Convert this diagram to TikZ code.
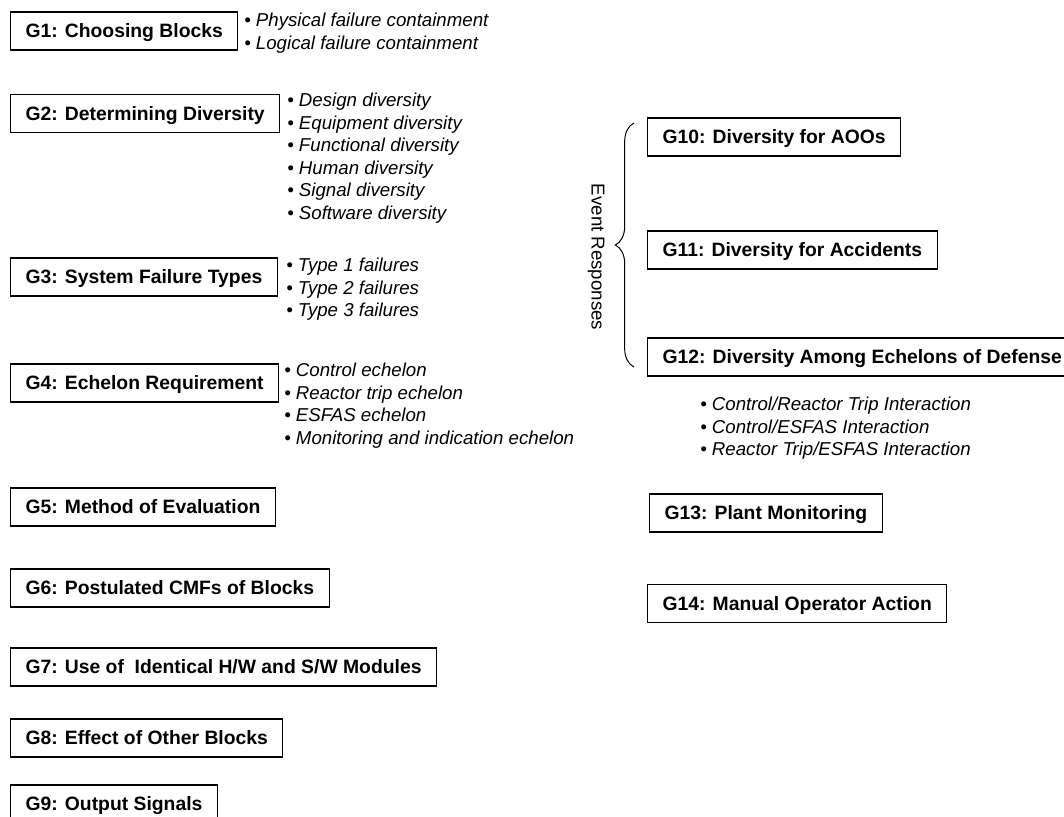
\documentclass[tikz,border=0pt]{standalone}
\usepackage{fontspec}
\setmainfont{Liberation Sans}
\usepackage{tikz}
\usetikzlibrary{positioning}
\usetikzlibrary{decorations.pathreplacing}

\begin{document}
\begin{tikzpicture}[x=0.75pt, y=-0.75pt,
		gbox/.style={draw, line width=0.8pt, anchor=west, inner xsep=11.25pt, inner ysep=0pt, minimum height=28.5pt, text height=10.4pt, text depth=0pt, font=\fontsize{14.5pt}{17pt}\selectfont\bfseries},
		items/.style={anchor=north west, inner sep=0pt, align=left, font=\fontsize{14pt}{16.9pt}\selectfont\itshape},
		brace/.style={decorate, decoration={brace, amplitude=14pt}, line width=0.75pt}]
				\useasboundingbox (0,0) rectangle (1064,817);
				\clip (0,0) rectangle (1064,817);
				
				\node[gbox] (g1) at (10,31) {G1: Choosing Blocks};
				\node[gbox] (g2) at (10,113.5) {G2: Determining Diversity};
				\node[gbox] (g3) at (10,277) {G3: System Failure Types};
				\node[gbox] (g4) at (10,383) {G4: Echelon Requirement};
				\node[gbox] (g5) at (10,507) {G5: Method of Evaluation};
				\node[gbox] (g6) at (10,588) {G6: Postulated CMFs of Blocks};
				\node[gbox] (g7) at (10,667) {G7: Use of~ Identical H/W and S/W Modules};
				\node[gbox] (g8) at (10,738) {G8: Effect of Other Blocks};
				\node[gbox] (g9) at (10,804) {G9: Output Signals};
				
				\node[gbox] (g10) at (647,137) {G10: Diversity for AOOs};
				\node[gbox] (g11) at (647,250) {G11: Diversity for Accidents};
				\node[gbox] (g12) at (647,357) {G12: Diversity Among Echelons of Defense};
				\node[gbox] (g13) at (649,513) {G13: Plant Monitoring};
				\node[gbox] (g14) at (647,603.5) {G14: Manual Operator Action};
				
				\node[items] (l1) at (244,13) {• Physical failure containment\\• Logical failure containment};
				\node[items] (l2) at (287,93) {• Design diversity\\• Equipment diversity\\• Functional diversity\\• Human diversity\\• Signal diversity\\• Software diversity};
				\node[items] (l3) at (286,258) {• Type 1 failures\\• Type 2 failures\\• Type 3 failures};
				\node[items] (l4) at (284,363) {• Control echelon\\• Reactor trip echelon\\• ESFAS echelon\\• Monitoring and indication echelon};
				\node[items] (l12) at (700,397) {• Control/Reactor Trip Interaction\\• Control/ESFAS Interaction\\• Reactor Trip/ESFAS Interaction};
				
				\node[rotate=-90, inner sep=0pt, font=\fontsize{14pt}{16.9pt}\selectfont] (ev) at (596,257) {Event Responses};
				\coordinate (bt) at (634,123);
				\coordinate (bb) at (634,367);
				\draw[brace] (bb) -- (bt);
			\end{tikzpicture}
\end{document}
